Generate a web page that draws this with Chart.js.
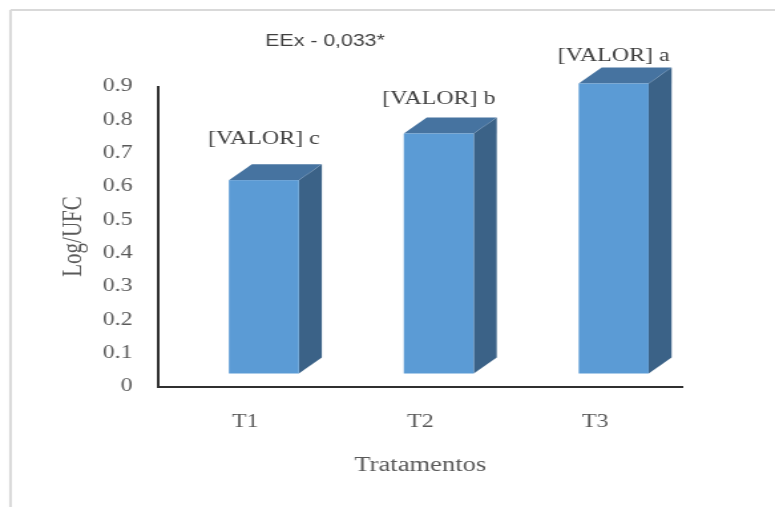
<!DOCTYPE html>
<html>
<head>
<meta charset="utf-8">
<script src="https://cdn.jsdelivr.net/npm/chart.js@4.4.1/dist/chart.umd.min.js"></script>
<style>
  html, body { margin: 0; padding: 0; background: #ffffff; overflow: hidden; }
  #wrap { position: absolute; left: 0; top: 0; width: 583px; height: 507px;
          transform: scaleX(1.32933); transform-origin: 0 0; }
</style>
</head>
<body>
<div id="wrap"><canvas id="c"></canvas></div>
<script>
// ---- data ----
const categories = ['T1', 'T2', 'T3'];
const values = [0.58, 0.72, 0.87];
const letters = ['c', 'b', 'a'];
const valueLabel = '[VALOR]';
const yTickLabels = ['0', '0.1', '0.2', '0.3', '0.4', '0.5', '0.6', '0.7', '0.8', '0.9'];
const chartNote = 'EEx - 0,033*';
const xTitle = 'Tratamentos';
const yTitle = 'Log/UFC';

// ---- style ----
const FRONT = '#5B9BD5', TOP = '#4673A0', SIDE = '#3B6287';
const DEPTH_X = 17.3, DEPTH_Y = 16, FLOOR = 13, SHIFT = 13.9;
const SERIF = '"Liberation Serif", "Times New Roman", serif';
const SANS = '"Liberation Sans", Arial, sans-serif';

const bar3d = {
  id: 'bar3d',
  beforeDraw(chart) {
    const ctx = chart.ctx;
    ctx.save();
    ctx.strokeStyle = '#d9d9d9';
    ctx.lineWidth = 2;
    ctx.beginPath();
    ctx.moveTo(7.9, 10); ctx.lineTo(chart.width, 10);
    ctx.moveTo(7.9, 10); ctx.lineTo(7.9, chart.height);
    ctx.stroke();
    ctx.fillStyle = '#404040';
    ctx.font = '16px ' + SANS;
    ctx.textAlign = 'center';
    ctx.textBaseline = 'middle';
    ctx.fillText(chartNote, 244.5, 42);
    ctx.restore();
  },
  beforeDatasetDraw(chart, args) {
    const ctx = chart.ctx;
    const meta = args.meta;
    const area = chart.chartArea;
    ctx.save();
    meta.data.forEach((el, i) => {
      const p = el.getProps(['x', 'y', 'base', 'width'], true);
      const L = p.x - p.width / 2 + SHIFT, R = p.x + p.width / 2 + SHIFT;
      const T = p.y - FLOOR, B = p.base - FLOOR;
      // side
      ctx.fillStyle = SIDE;
      ctx.beginPath();
      ctx.moveTo(R, T); ctx.lineTo(R + DEPTH_X, T - DEPTH_Y);
      ctx.lineTo(R + DEPTH_X, B - DEPTH_Y); ctx.lineTo(R, B); ctx.closePath();
      ctx.fill();
      // top
      ctx.fillStyle = TOP;
      ctx.beginPath();
      ctx.moveTo(L, T); ctx.lineTo(L + DEPTH_X, T - DEPTH_Y);
      ctx.lineTo(R + DEPTH_X, T - DEPTH_Y); ctx.lineTo(R, T); ctx.closePath();
      ctx.fill();
      // front
      ctx.fillStyle = FRONT;
      ctx.fillRect(L, T, R - L, B - T);
      // label (perspective: labels lower bars sit a little further above)
      const off = 27.6 + 0.144 * (T - area.top);
      ctx.fillStyle = '#404040';
      ctx.font = '18px ' + SERIF;
      ctx.textAlign = 'center';
      ctx.textBaseline = 'middle';
      ctx.fillText(valueLabel + ' ' + letters[i], (L + R) / 2, T - off);
    });
    ctx.restore();
    return false;
  }
};

new Chart(document.getElementById('c'), {
  type: 'bar',
  data: {
    labels: categories,
    datasets: [{ data: values, backgroundColor: FRONT, barPercentage: 0.4, categoryPercentage: 1 }]
  },
  options: {
    responsive: true,
    maintainAspectRatio: false,
    animation: false,
    devicePixelRatio: 1,
    layout: { padding: { top: 86.5, right: 69.5, bottom: 0, left: 0 } },
    plugins: { legend: { display: false }, tooltip: { enabled: false } },
    scales: {
      x: {
        grid: { display: false, drawTicks: false },
        border: { display: true, color: '#303030', width: 2 },
        ticks: { color: '#595959', font: { family: SERIF, size: 18 }, padding: 25 },
        title: { display: true, text: xTitle, color: '#595959',
                 font: { family: SERIF, size: 20 }, padding: { top: 0, bottom: 29 } },
        afterFit(s) { s.height = 120.5; }
      },
      y: {
        min: 0, max: 0.9,
        grid: { display: false, drawTicks: false },
        border: { display: true, color: '#303030', width: 2 },
        ticks: { stepSize: 0.1, color: '#595959', font: { family: SERIF, size: 18 }, padding: 19,
                 callback: (v, i) => yTickLabels[i] },
        title: { display: true, text: yTitle, color: '#595959',
                 font: { family: SERIF, size: 21 }, padding: { top: 43, bottom: 0 } },
        afterFit(s) { s.width = 118.8; }
      }
    }
  },
  plugins: [bar3d]
});
</script>
</body>
</html>
